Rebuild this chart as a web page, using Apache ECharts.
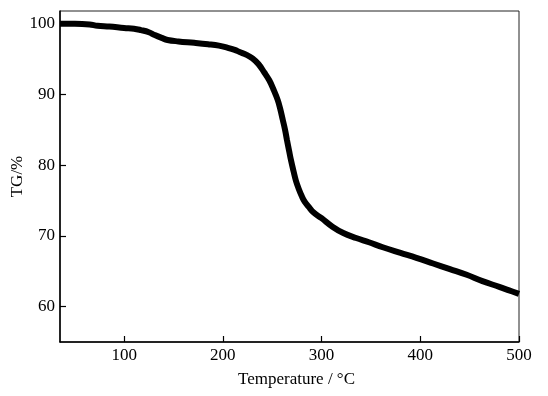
<!DOCTYPE html>
<html>
<head>
<meta charset="utf-8">
<script src="https://cdn.jsdelivr.net/npm/echarts@6/dist/echarts.min.js"></script>
<style>
  html, body { margin: 0; padding: 0; background: #fff; }
  #chart { width: 548px; height: 396px; }
</style>
</head>
<body>
<div id="chart"></div>
<script>
// temperature (°C) and TG (%)
var temperature = [35, 50, 65, 73, 85, 100, 110, 117, 125, 131, 138, 144, 155, 171, 185, 196, 205, 212, 217, 224,
  230, 236, 242, 247, 251, 255.6, 258, 260.7, 263, 265, 267, 269, 271.5, 274, 277, 280, 283, 287, 292, 300,
  311, 322, 335, 348, 362, 380, 396, 413, 430, 447, 463, 480, 490, 500];
var tg = [100, 100, 99.9, 99.7, 99.6, 99.4, 99.3, 99.1, 98.8, 98.4, 98.0, 97.7, 97.5, 97.3, 97.1, 96.9, 96.6, 96.3, 96.0, 95.6,
  95.1, 94.3, 93.1, 92.0, 90.8, 89.2, 88.0, 86.4, 85.0, 83.5, 82.1, 80.7, 79.2, 77.8, 76.6, 75.6, 74.8, 74.1, 73.3, 72.5,
  71.3, 70.4, 69.7, 69.1, 68.4, 67.6, 66.9, 66.1, 65.3, 64.5, 63.6, 62.8, 62.3, 61.8];
var xTicks = [100, 200, 300, 400, 500];
var yTicks = [60, 70, 80, 90, 100];

var points = [];
for (var i = 0; i < temperature.length; i++) {
  points.push([temperature[i], tg[i]]);
}

var font = "Liberation Serif";
var myChart = echarts.init(document.getElementById("chart"));
myChart.setOption({
  animation: false,
  grid: {
    left: 60,
    right: 29,
    top: 11,
    bottom: 54,
    outerBoundsMode: "none",
    containLabel: false,
    show: true,
    borderColor: "#222",
    borderWidth: 1
  },
  xAxis: {
    type: "value",
    min: 35,
    max: 500,
    name: "Temperature / °C",
    nameLocation: "middle",
    nameGap: 29,
    nameMoveOverlap: false,
    nameTextStyle: { fontFamily: font, fontSize: 17, color: "#000", padding: [0, 0, 0, 14] },
    axisLine: { show: true, lineStyle: { color: "#000", width: 1.5 } },
    axisTick: { show: true, inside: true, length: 6, customValues: xTicks, lineStyle: { color: "#000", width: 1.2 } },
    axisLabel: { customValues: xTicks, fontFamily: font, fontSize: 17, color: "#000", margin: 5 },
    splitLine: { show: false }
  },
  yAxis: {
    type: "value",
    min: 55,
    max: 101.8,
    name: "TG/%",
    nameLocation: "middle",
    nameGap: 34,
    nameMoveOverlap: false,
    nameRotate: 90,
    nameTextStyle: { fontFamily: font, fontSize: 17, color: "#000" },
    axisLine: { show: true, lineStyle: { color: "#000", width: 1.5 } },
    axisTick: { show: true, inside: true, length: 6, customValues: yTicks, lineStyle: { color: "#000", width: 1.2 } },
    axisLabel: { customValues: yTicks, fontFamily: font, fontSize: 17, color: "#000", margin: 5 },
    splitLine: { show: false }
  },
  series: [
    {
      type: "line",
      data: points,
      smooth: 0.4,
      showSymbol: false,
      lineStyle: { color: "#000", width: 6 }
    }
  ]
});
</script>
</body>
</html>
